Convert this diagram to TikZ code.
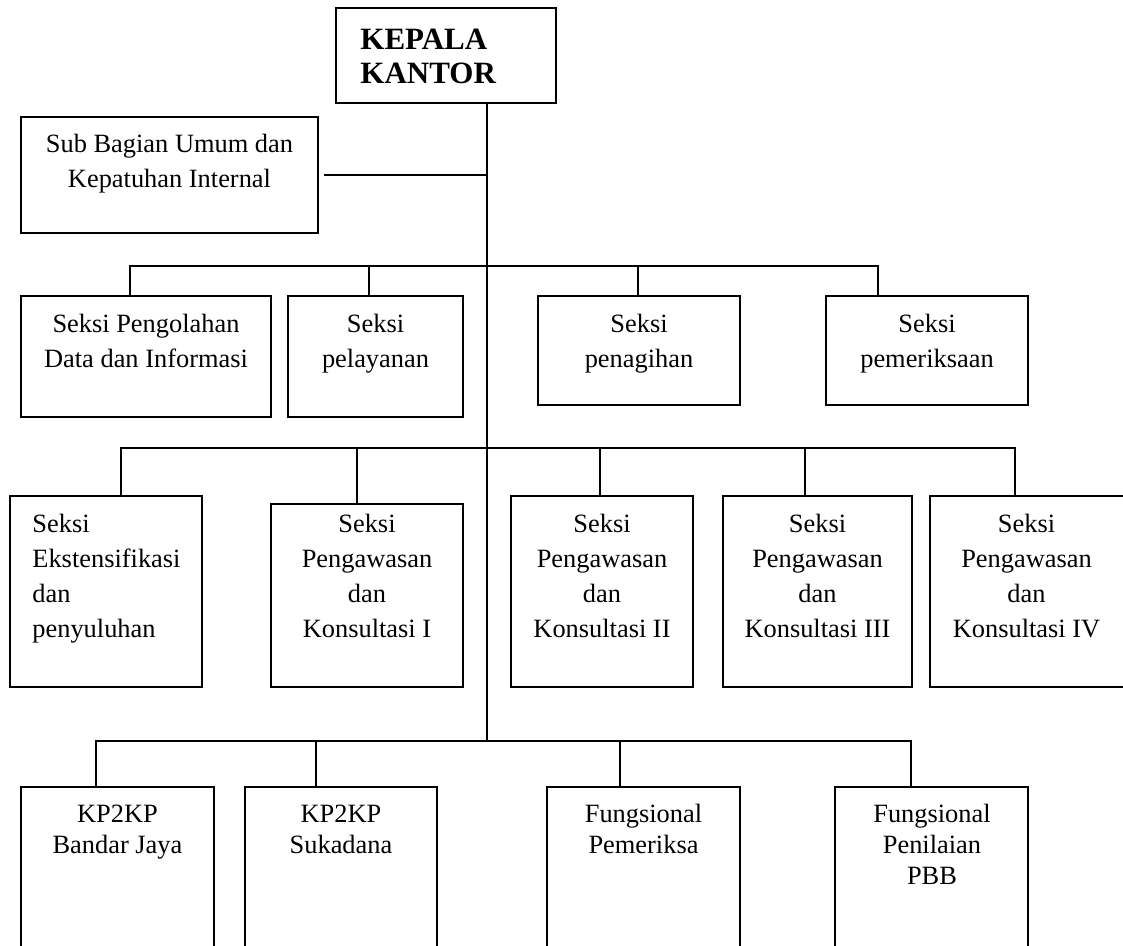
\documentclass[tikz,border=0pt]{standalone}
\usepackage{fontspec}
\setmainfont{Liberation Serif}
\usetikzlibrary{fit}
\newcommand\orgbody{\fontsize{13.2}{17.5}\selectfont}
\newcommand\orglow{\fontsize{13.2}{15.5}\selectfont}
\newcommand\orgtitle{\fontsize{15.5}{17}\selectfont\bfseries}
\begin{document}
\begin{tikzpicture}[x=0.5pt,y=-0.5pt,
  box/.style={draw, line width=0.9pt, inner sep=0pt},
  link/.style={line width=0.9pt},
  lbl/.style={anchor=north, inner sep=0pt, align=center, font=\orgbody},
  lbllow/.style={anchor=north, inner sep=0pt, align=center, font=\orglow}]
\path[use as bounding box] (0,0) rectangle (1123,946);
\clip (0,0) rectangle (1123,946);
\fill[white] (0,0) rectangle (1123,946);

% head
\node[box, fit={(336,8) (556,103)}] (kk) {};
\node[anchor=north west, inner sep=0pt, align=left, font=\orgtitle] (tkk) at (360,25) {\strut KEPALA\\KANTOR};

% sub bagian
\node[box, fit={(21,117) (318,233)}] (sub) {};
\node[lbl] (tsub) at (169.5,127.5) {\strut Sub Bagian Umum dan\\Kepatuhan Internal};

% row 1
\node[box, fit={(21,296) (271,417)}] (a1) {};
\node[box, fit={(288,296) (463,417)}] (a2) {};
\node[box, fit={(538,296) (740,405)}] (a3) {};
\node[box, fit={(826,296) (1028,405)}] (a4) {};
\node[lbl] (ta1) at (146,307.5) {\strut Seksi Pengolahan\\Data dan Informasi};
\node[lbl] (ta2) at (375.5,307.5) {\strut Seksi\\pelayanan};
\node[lbl] (ta3) at (639,307.5) {\strut Seksi\\penagihan};
\node[lbl] (ta4) at (927,307.5) {\strut Seksi\\pemeriksaan};

% row 2
\node[box, fit={(10,496) (202,687)}] (b1) {};
\node[box, fit={(271,504) (463,687)}] (b2) {};
\node[box, fit={(511,496) (693,687)}] (b3) {};
\node[box, fit={(723,496) (912,687)}] (b4) {};
\node[box, fit={(930,496) (1124,687)}] (b5) {};
\node[anchor=north west, inner sep=0pt, align=left, font=\orgbody] (tb1) at (32,507.5) {\strut Seksi\\Ekstensifikasi\\dan\\penyuluhan};
\node[lbl] (tb2) at (367,507.5) {\strut Seksi\\Pengawasan\\dan\\Konsultasi I};
\node[lbl] (tb3) at (602,507.5) {\strut Seksi\\Pengawasan\\dan\\Konsultasi II};
\node[lbl] (tb4) at (817.5,507.5) {\strut Seksi\\Pengawasan\\dan\\Konsultasi III};
\node[lbl] (tb5) at (1026.5,507.5) {\strut Seksi\\Pengawasan\\dan\\Konsultasi IV};

% row 3
\node[box, fit={(21,787) (214,960)}] (c1) {};
\node[box, fit={(245,787) (437,960)}] (c2) {};
\node[box, fit={(547,787) (740,960)}] (c3) {};
\node[box, fit={(835,787) (1028,960)}] (c4) {};
\node[lbllow] (tc1) at (117.5,800.3) {\strut KP2KP\\Bandar Jaya};
\node[lbllow] (tc2) at (341,800.3) {\strut KP2KP\\Sukadana};
\node[lbllow] (tc3) at (643.5,800.3) {\strut Fungsional\\Pemeriksa};
\node[lbllow] (tc4) at (932,800.3) {\strut Fungsional\\Penilaian\\PBB};

% connectors
\coordinate (sp) at (487,741);
\draw[link] (kk.south -| sp) -- (sp);
\draw[link] ([xshift=2.5pt]sub.east) -- (sub.east -| sp);

\coordinate (d11) at (130,266);
\coordinate (d12) at (369,266);
\coordinate (d13) at (638,266);
\coordinate (d14) at (878,266);
\draw[link] (d11 |- a1.north) -- (d11) -- (d14) -- (d14 |- a4.north);
\draw[link] (d12) -- (d12 |- a2.north);
\draw[link] (d13) -- (d13 |- a3.north);

\coordinate (d21) at (121,448);
\coordinate (d22) at (357,448);
\coordinate (d23) at (600,448);
\coordinate (d24) at (805,448);
\coordinate (d25) at (1015,448);
\draw[link] (d21 |- b1.north) -- (d21) -- (d25) -- (d25 |- b5.north);
\draw[link] (d22) -- (d22 |- b2.north);
\draw[link] (d23) -- (d23 |- b3.north);
\draw[link] (d24) -- (d24 |- b4.north);

\coordinate (d31) at (96,741);
\coordinate (d32) at (316,741);
\coordinate (d33) at (620,741);
\coordinate (d34) at (911,741);
\draw[link] (d31 |- c1.north) -- (d31) -- (d34) -- (d34 |- c4.north);
\draw[link] (d32) -- (d32 |- c2.north);
\draw[link] (d33) -- (d33 |- c3.north);
\end{tikzpicture}
\end{document}
